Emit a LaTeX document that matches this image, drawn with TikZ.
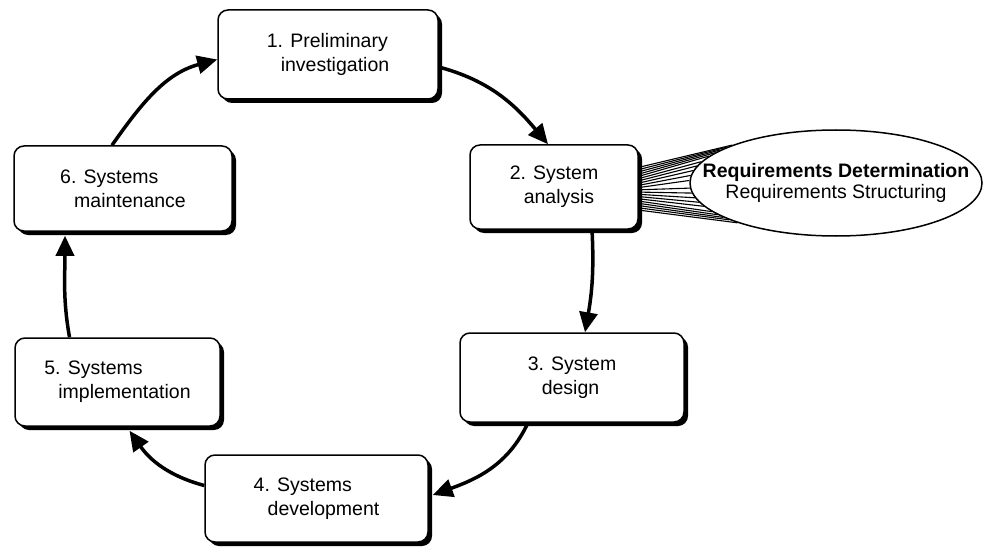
\documentclass[tikz,border=0pt]{standalone}
\usepackage{fontspec}
\setmainfont{Liberation Sans}
\usetikzlibrary{shadows,calc,arrows.meta,shapes.geometric}
\begin{document}
\begin{tikzpicture}[x=1pt,y=-1pt,
  phase/.style={draw, line width=1.5pt, rounded corners=10pt, fill=white,
    drop shadow={shadow xshift=4pt, shadow yshift=-4pt, opacity=1, fill=black},
    align=left, font=\fontsize{19.5}{24}\selectfont, inner sep=0pt},
  flow/.style={line width=3.5pt, -{Triangle[length=20pt,width=18pt]}},
  fan/.style={line width=1.1pt},
  bubble/.style={draw, ellipse, line width=1.5pt, fill=white, inner sep=0pt}]
\fill[white] (0,0) rectangle (995,548);
\useasboundingbox (0,0) rectangle (995,548);

% life-cycle phases
\node[phase, minimum width=220pt, minimum height=89pt] (b1) at (328,54.5)
  {1. Preliminary\\\hspace*{14pt}investigation};
\node[phase, minimum width=168pt, minimum height=84pt] (b2) at (554,187)
  {2. System\\\hspace*{14pt}analysis};
\node[phase, minimum width=224pt, minimum height=89pt] (b3) at (572,377.5)
  {3. System\\\hspace*{14pt}design};
\node[phase, minimum width=223pt, minimum height=87pt] (b4) at (316.5,498.5)
  {4. Systems\\\hspace*{14pt}development};
\node[phase, minimum width=205pt, minimum height=88pt] (b5) at (117.5,382)
  {5. Systems\\\hspace*{14pt}implementation};
\node[phase, minimum width=218pt, minimum height=85pt] (b6) at (123,188.5)
  {6. Systems\\\hspace*{14pt}maintenance};

% analysis sub-activities
\node[bubble, minimum width=292pt, minimum height=106pt] (req) at (836,183) {};
\node[align=center, font=\fontsize{19.5}{21}\selectfont] (reqtext) at (req.center)
  {\textbf{Requirements Determination}\\Requirements Structuring};

% fan linking the analysis phase to its activities
\foreach \i in {0,...,19}{
  \pgfmathsetmacro\t{0.27+\i*0.5/19}
  \pgfmathtruncatemacro\a{160+\i*42/19}
  \draw[fan] ($(b2.north east)!\t!(b2.south east)$) -- (req.\a);
}

% cycle
\draw[flow] ([yshift=-12.5pt]b1.east) to[out=-15,in=130] ([xshift=-6pt]b2.north);
\draw[flow] ([xshift=38pt]b2.south) to[out=-87,in=80] ([xshift=13pt]b3.north);
\draw[flow] ([xshift=-44pt]b3.south) to[out=-115,in=20] ([xshift=4pt,yshift=3.5pt]b4.east);
\draw[flow] ([yshift=13pt]b4.west) to[out=165,in=-55] ([xshift=12pt,yshift=-4pt]b5.south);
\draw[flow] ([xshift=-48pt]b5.north) to[out=100,in=-90] ([xshift=-58pt,yshift=-4pt]b6.south);
\draw[flow] ([xshift=-11pt]b6.north) to[out=55,in=195] ([yshift=-5pt]b1.west);
\end{tikzpicture}
\end{document}
